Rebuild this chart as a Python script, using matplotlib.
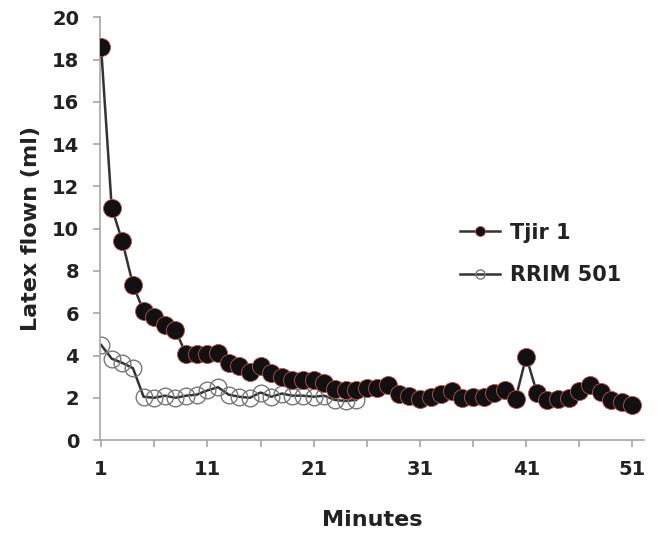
import matplotlib
matplotlib.use("Agg")
import matplotlib.pyplot as plt
import numpy as np

#### Latex flow per minute, two clones

minutes_tjir = list(range(1, 52))
tjir1 = [18.6, 11.0, 9.4, 7.35, 6.1, 5.8, 5.45, 5.2, 4.05, 4.05,
         4.05, 4.1, 3.65, 3.5, 3.2, 3.5, 3.15, 3.0, 2.85, 2.85,
         2.85, 2.7, 2.4, 2.35, 2.36, 2.45, 2.46, 2.6, 2.2, 2.1,
         1.95, 2.05, 2.2, 2.3, 2.0, 2.05, 2.05, 2.25, 2.36, 1.95,
         3.95, 2.25, 1.9, 1.95, 2.0, 2.3, 2.6, 2.27, 1.9, 1.8,
         1.65]

minutes_rrim = list(range(1, 26))
rrim501 = [4.5, 3.85, 3.65, 3.4, 2.05, 2.0, 2.1, 2.0, 2.1, 2.15,
           2.35, 2.5, 2.15, 2.05, 2.0, 2.25, 2.05, 2.2, 2.1, 2.1,
           2.05, 2.1, 1.9, 1.85, 1.9]

xticks = list(range(1, 52, 5))
xticklabels = [str(t) if (t - 1) % 10 == 0 else "" for t in xticks]
yticks = list(range(0, 21, 2))

#### Plot

fig = plt.figure(figsize=(6.58, 5.38), dpi=100)
ax = fig.add_axes([0.152, 0.182, 0.827, 0.786])

ax.plot(minutes_rrim, rrim501, "-o", color="#333333", lw=1.8,
        markersize=12, markerfacecolor="none", markeredgecolor="#777777",
        markeredgewidth=1.0, label="RRIM 501", zorder=2)
ax.plot(minutes_tjir, tjir1, "-o", color="#333333", lw=1.8,
        markersize=13, markerfacecolor="#111111", markeredgecolor="#c0504d",
        markeredgewidth=0.6, label="Tjir 1", zorder=3)

ax.set_xlim(0.9, 52.1)
ax.set_ylim(0, 20)
ax.set_xticks(xticks)
ax.set_xticklabels(xticklabels)
ax.set_yticks(yticks)

for s in ["top", "right"]:
    ax.spines[s].set_visible(False)
for s in ["left", "bottom"]:
    ax.spines[s].set_color("#a6a6a6")
    ax.spines[s].set_linewidth(1.2)

ax.tick_params(axis="both", colors="#a6a6a6", length=5, width=1.2,
               labelcolor="#222222", labelsize=14)
ax.tick_params(axis="y", pad=10)
ax.tick_params(axis="x", pad=9)
for lab in ax.get_xticklabels() + ax.get_yticklabels():
    lab.set_fontweight("bold")

ax.set_xlabel("Minutes", fontsize=16, fontweight="bold", color="#222222",
              labelpad=23)
ax.set_ylabel("Latex flown (ml)", fontsize=16, fontweight="bold",
              color="#222222", labelpad=8)

handles, labels = ax.get_legend_handles_labels()
leg = ax.legend(handles[::-1], labels[::-1], loc="center left",
                bbox_to_anchor=(0.627, 0.44), frameon=False,
                prop={"weight": "bold", "size": 15}, handlelength=1.9,
                labelspacing=1.1, markerscale=0.55, handletextpad=0.5)
for t in leg.get_texts():
    t.set_color("#222222")

fig.savefig("out.png", dpi=100)
